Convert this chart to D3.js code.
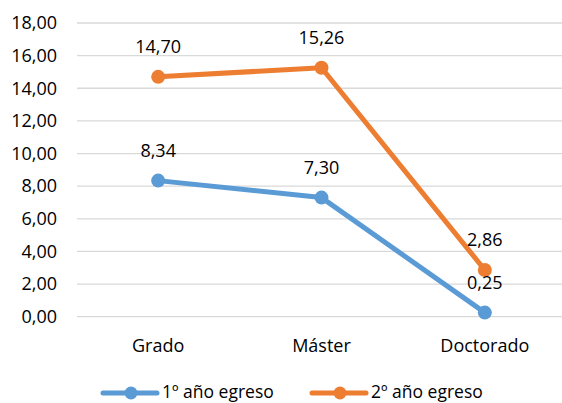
<!DOCTYPE html>
<html><head><meta charset="utf-8">
<script src="https://cdn.jsdelivr.net/npm/d3@7"></script>
<style>body{margin:0;background:#fff}svg{display:block}text{font-family:"Open Sans",sans-serif;fill:#000}</style>
</head><body>
<script>
const categories = ["Grado", "Máster", "Doctorado"];
const serie1 = [8.34, 7.30, 0.25];
const serie2 = [14.70, 15.26, 2.86];
const seriesNames = ["1º año egreso", "2º año egreso"];
const yTicks = [0, 2, 4, 6, 8, 10, 12, 14, 16, 18];
const colors = ["#5B9BD5", "#ED7D31"];

const W = 562, H = 403;
const FS = 18;
const svg = d3.select("body").append("svg").attr("width", W).attr("height", H);
const fmt = v => d3.format(".2f")(v).replace(".", ",");
const x = d3.scaleBand().domain(categories).range([76.5, 566.5]);
const y = d3.scaleLinear().domain([0, 18]).range([316.7, 23]);

const g = svg.append("g");
g.selectAll("line.grid").data(yTicks).join("line")
  .attr("x1", 77).attr("x2", 562)
  .attr("y1", d => y(d)).attr("y2", d => y(d))
  .attr("stroke", "#d9d9d9").attr("stroke-width", 1.3);
g.selectAll("text.yt").data(yTicks).join("text")
  .attr("x", 57).attr("y", d => y(d)).attr("dy", "0.35em")
  .attr("text-anchor", "end").attr("font-size", FS).text(d => fmt(d));
g.selectAll("text.xt").data(categories).join("text")
  .attr("x", d => x(d) + x.bandwidth() / 2).attr("y", 352)
  .attr("text-anchor", "middle").attr("font-size", FS).text(d => d);

const data = [serie1, serie2];
const line = d3.line().x((d, i) => x(categories[i]) + x.bandwidth() / 2).y(d => y(d));
data.forEach((s, k) => {
  svg.append("path").datum(s).attr("d", line).attr("fill", "none")
    .attr("stroke", colors[k]).attr("stroke-width", 5).attr("stroke-linejoin", "round");
  svg.selectAll(null).data(s).join("circle")
    .attr("cx", (d, i) => x(categories[i]) + x.bandwidth() / 2).attr("cy", d => y(d))
    .attr("r", 7).attr("fill", colors[k]);
});
data.forEach((s, k) => {
  svg.selectAll(null).data(s).join("text")
    .attr("x", (d, i) => x(categories[i]) + x.bandwidth() / 2).attr("y", d => y(d) - 24)
    .attr("text-anchor", "middle").attr("font-size", FS).text(d => fmt(d));
});

const legX = [103, 312];
seriesNames.forEach((n, k) => {
  const lg = svg.append("g").attr("transform", `translate(${legX[k]},393)`);
  lg.append("line").attr("x1", 0).attr("x2", 54).attr("stroke", colors[k]).attr("stroke-width", 5).attr("stroke-linecap", "round");
  lg.append("circle").attr("cx", 28).attr("r", 6.5).attr("fill", colors[k]);
  lg.append("text").attr("x", 59).attr("y", 0).attr("dy", "0.3em").attr("font-size", FS - 0.5).text(n);
});
</script>
</body></html>
